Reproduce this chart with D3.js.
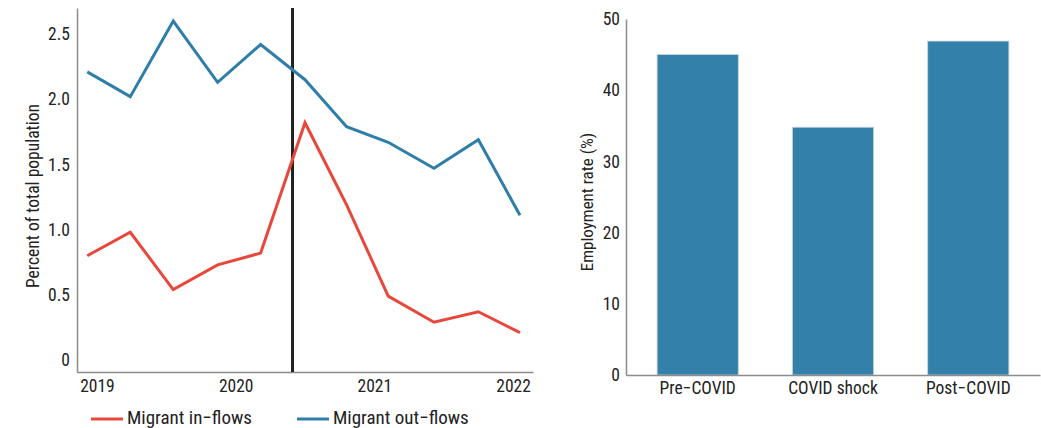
<!DOCTYPE html>
<html>
<head>
<meta charset="utf-8">
<script src="https://cdn.jsdelivr.net/npm/d3@7"></script>
<style>
  body { margin: 0; background: #fff; }
  svg text { font-family: "Roboto Condensed", Roboto, sans-serif; font-stretch: condensed; fill: #222; }
</style>
</head>
<body>
<svg id="chart" width="1041" height="428"></svg>
<script>
// left panel: migrant flows, percent of total population
var periods = [2018.93, 2019.24, 2019.55, 2019.87, 2020.18, 2020.50, 2020.80, 2021.10, 2021.43, 2021.75, 2022.05];
var inflows  = [0.80, 0.98, 0.54, 0.73, 0.82, 1.82, 1.19, 0.49, 0.29, 0.37, 0.21];
var outflows = [2.21, 2.02, 2.60, 2.13, 2.42, 2.15, 1.79, 1.67, 1.47, 1.69, 1.11];
var shockLine = 2020.41;
var yearTicks = [2019, 2020, 2021, 2022];
var flowTicks = [0, 0.5, 1.0, 1.5, 2.0, 2.5];

// right panel: employment rate
var phases = ["Pre\u2212COVID", "COVID shock", "Post\u2212COVID"];
var employment = [45, 34.8, 46.9];
var rateTicks = [0, 10, 20, 30, 40, 50];

var svg = d3.select("#chart");
var axisGrey = "#8c8c8c";
var red = "#e8483c", blue = "#2f7ea9";

// ---- left chart
var x = d3.scaleLinear().domain([2018.856, 2022.144]).range([77, 533]);
var y = d3.scaleLinear().domain([-0.092, 2.70]).range([372, 8]);

var gx = svg.append("g").attr("transform", "translate(0,372)")
    .call(d3.axisBottom(x).tickValues(yearTicks).tickFormat(d3.format("d")).tickSize(0).tickPadding(8));
var gy = svg.append("g").attr("transform", "translate(77,0)")
    .call(d3.axisLeft(y).tickValues(flowTicks).tickFormat(function(d) { return d === 0 ? "0" : d3.format(".1f")(d); }).tickSize(0).tickPadding(7));

[gx, gy].forEach(function(g) {
  g.select(".domain").attr("stroke", axisGrey).attr("stroke-width", 1.5);
  g.selectAll("text").attr("font-size", 17.5).attr("fill", "#222").style("font-family", null);
});

svg.append("text")
    .attr("transform", "translate(39,196) rotate(-90)")
    .attr("text-anchor", "middle")
    .attr("font-size", 17.5)
    .text("Percent of total population");

var line = d3.line()
    .x(function(d, i) { return x(periods[i]); })
    .y(function(d) { return y(d); });

svg.append("line")
    .attr("x1", x(shockLine)).attr("x2", x(shockLine))
    .attr("y1", y.range()[1]).attr("y2", y.range()[0])
    .attr("stroke", "#222").attr("stroke-width", 3);

svg.append("path").datum(outflows)
    .attr("d", line).attr("fill", "none")
    .attr("stroke", blue).attr("stroke-width", 3);
svg.append("path").datum(inflows)
    .attr("d", line).attr("fill", "none")
    .attr("stroke", red).attr("stroke-width", 3);

// legend
var legend = [{ name: "Migrant in\u2212flows", color: red, x: 91 },
              { name: "Migrant out\u2212flows", color: blue, x: 297 }];
var lg = svg.selectAll(".legend").data(legend).enter().append("g")
    .attr("class", "legend")
    .attr("transform", function(d) { return "translate(" + d.x + ",419)"; });
lg.append("line").attr("x1", 0).attr("x2", 32)
    .attr("stroke", function(d) { return d.color; }).attr("stroke-width", 3);
lg.append("text").attr("x", 36).attr("y", 5)
    .attr("font-size", 19)
    .text(function(d) { return d.name; });

// ---- right chart
var xb = d3.scaleBand().domain(phases).range([626, 1040]).paddingInner(0.4).paddingOuter(0.23);
var yb = d3.scaleLinear().domain([0, 50]).range([375, 19]);

svg.selectAll(".bar").data(employment).enter().append("rect")
    .attr("class", "bar")
    .attr("x", function(d, i) { return xb(phases[i]); })
    .attr("width", xb.bandwidth())
    .attr("y", function(d) { return yb(d); })
    .attr("height", function(d) { return yb(0) - yb(d); })
    .attr("fill", "#3380aa")
    .attr("stroke", "#c9d3db").attr("stroke-width", 0.8);

var gbx = svg.append("g").attr("transform", "translate(0,375)")
    .call(d3.axisBottom(xb).tickSize(0).tickPadding(7));
var gby = svg.append("g").attr("transform", "translate(626,0)")
    .call(d3.axisLeft(yb).tickValues(rateTicks).tickSize(0).tickPadding(6));

[gbx, gby].forEach(function(g) {
  g.select(".domain").attr("stroke", axisGrey).attr("stroke-width", 1.5);
  g.selectAll("text").attr("font-size", 17.5).attr("fill", "#222").style("font-family", null);
});

svg.append("text")
    .attr("transform", "translate(593,202) rotate(-90)")
    .attr("text-anchor", "middle")
    .attr("font-size", 17)
    .text("Employment rate (%)");
</script>
</body>
</html>
